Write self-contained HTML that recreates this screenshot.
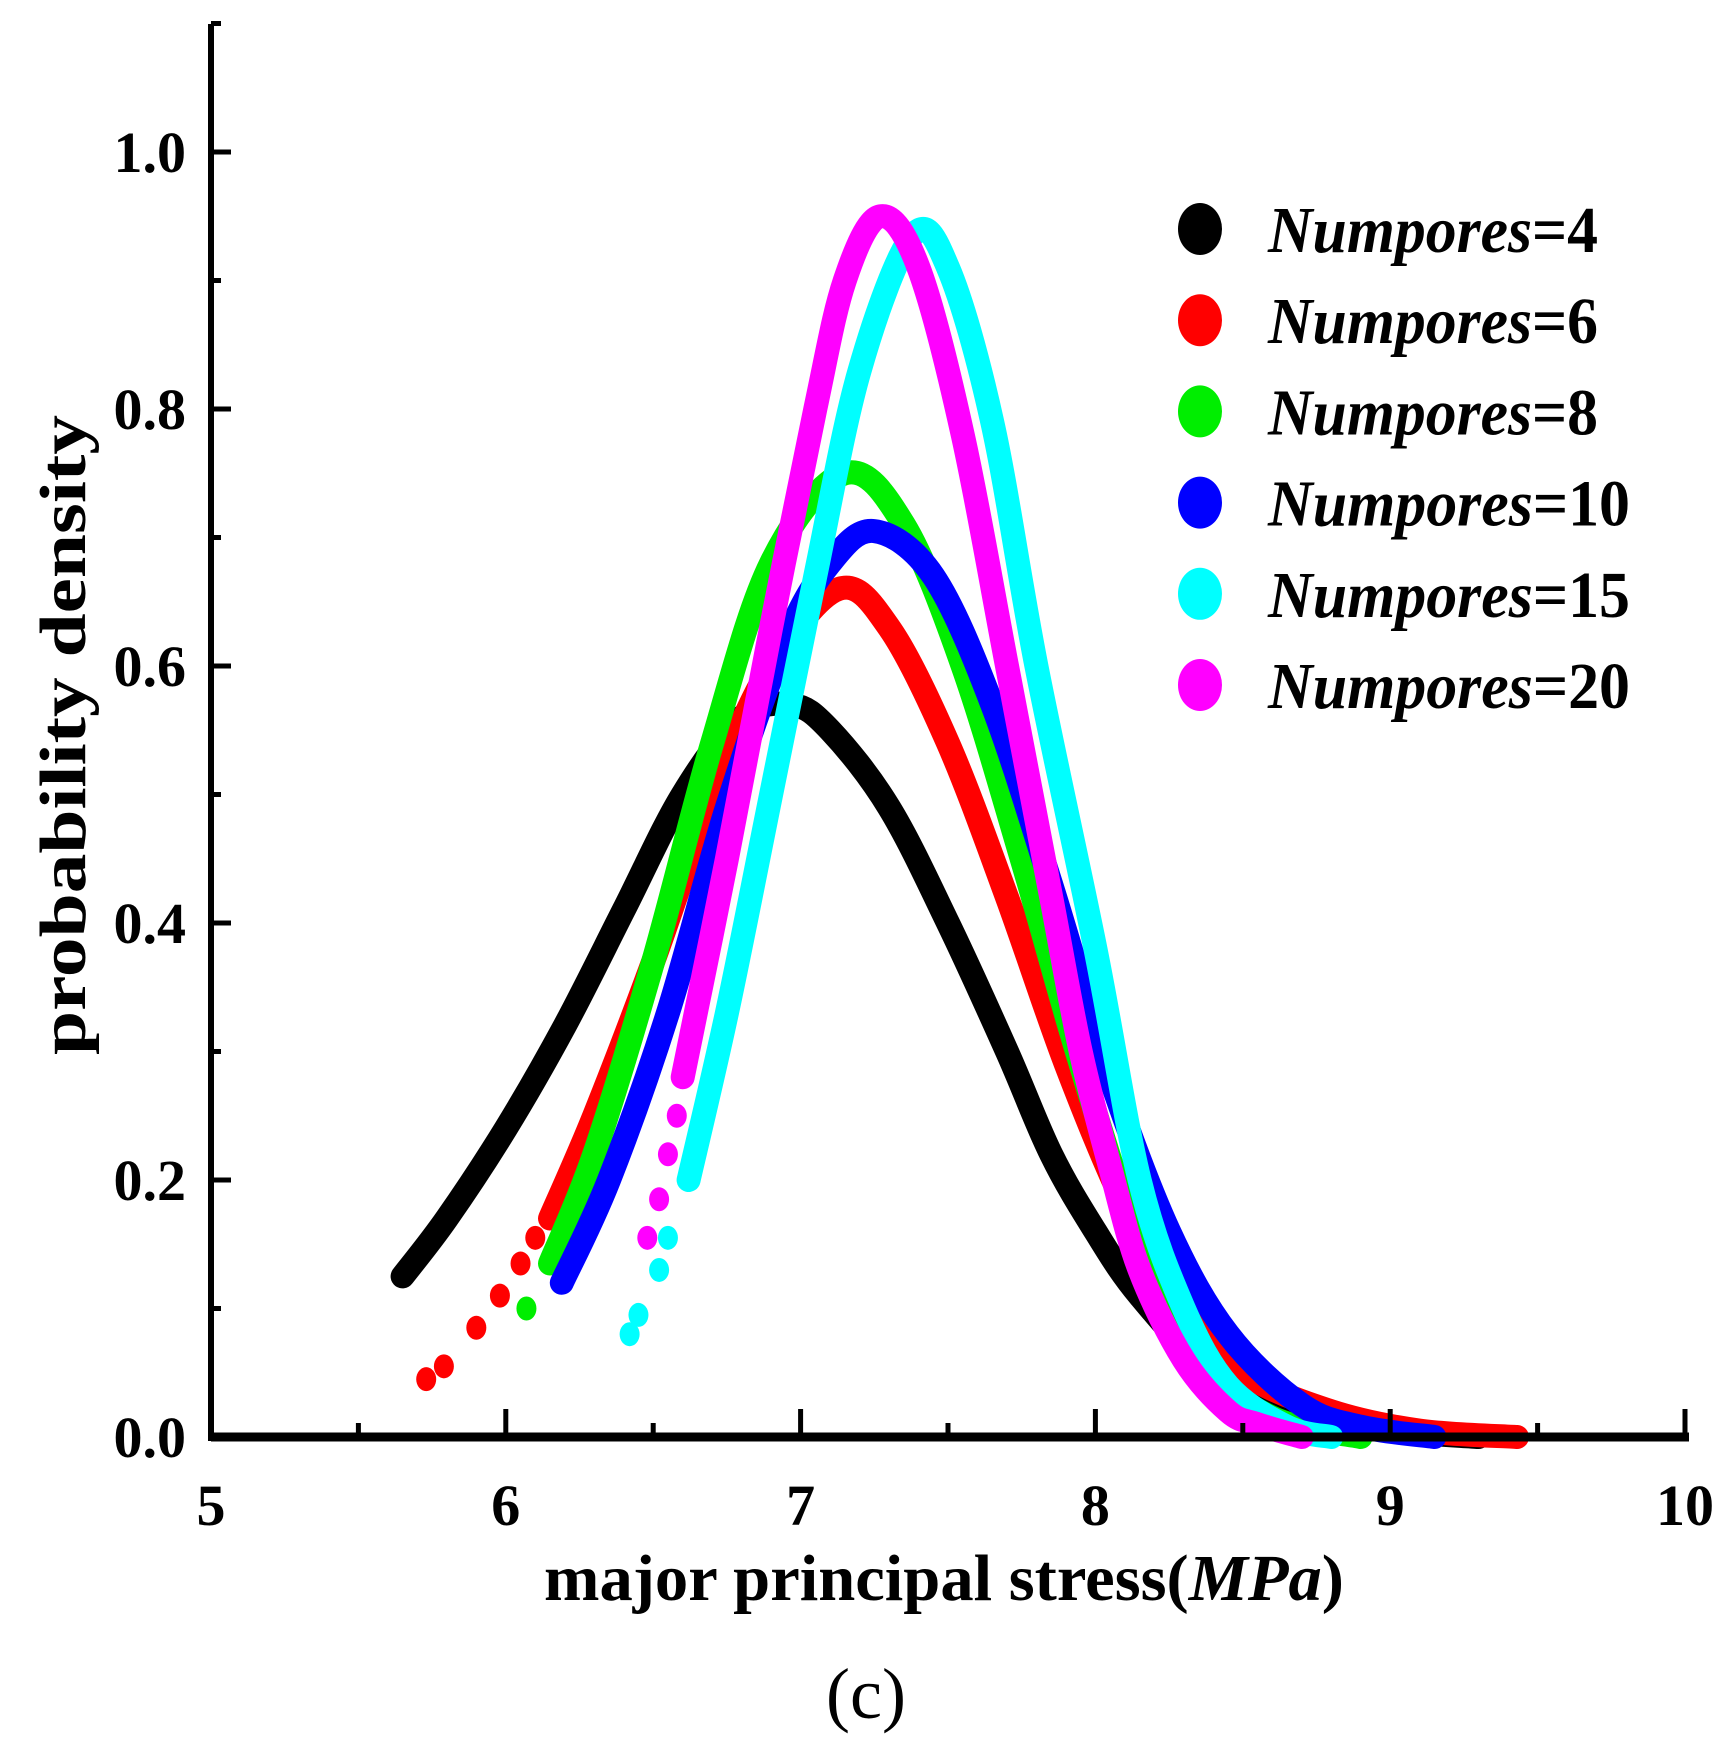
<!DOCTYPE html>
<html><head><meta charset="utf-8"><style>html,body{margin:0;padding:0;background:#fff}svg{display:block}</style></head>
<body>
<svg id="chart" width="1733" height="1746" viewBox="0 0 1733 1746" xmlns="http://www.w3.org/2000/svg" font-family="'Liberation Serif', serif" font-weight="bold">
<g id="series"></g>
<g id="axes"></g>
<g id="legend"></g>
<text x="944" y="1600" text-anchor="middle" font-size="66" textLength="800" lengthAdjust="spacingAndGlyphs">major principal stress(<tspan font-style="italic">MPa</tspan>)</text>
<text transform="translate(85,735) rotate(-90)" text-anchor="middle" font-size="66" textLength="640" lengthAdjust="spacingAndGlyphs">probability density</text>
<text x="866" y="1718" text-anchor="middle" font-size="72" font-weight="normal">(c)</text>
</svg>
<script>
const xTicks = [5, 6, 7, 8, 9, 10];
const yTicks = [0.0, 0.2, 0.4, 0.6, 0.8, 1.0];
const seriesNames = ["Numpores=4", "Numpores=6", "Numpores=8", "Numpores=10", "Numpores=15", "Numpores=20"];
const seriesColors = ["#000000", "#ff0000", "#00ee00", "#0000ff", "#00ffff", "#ff00ff"];
const s4x = [5.65,5.8,6.0,6.2,6.4,6.6,6.8,6.97,7.1,7.3,7.5,7.7,7.85,8.0,8.15,8.4,8.7,9.0,9.3];
const s4y = [0.125,0.17,0.24,0.32,0.41,0.5,0.56,0.57,0.55,0.49,0.4,0.3,0.22,0.16,0.11,0.05,0.015,0.005,0];
const s6x = [6.15,6.3,6.5,6.7,6.9,7.13,7.3,7.5,7.7,7.9,8.1,8.3,8.5,8.8,9.1,9.43];
const s6y = [0.17,0.25,0.37,0.5,0.6,0.66,0.63,0.54,0.42,0.29,0.18,0.1,0.05,0.02,0.005,0];
const s6dotsX = [5.73,5.79,5.9,5.98,6.05,6.1];
const s6dotsY = [0.045,0.055,0.085,0.11,0.135,0.155];
const s8x = [6.15,6.3,6.5,6.7,6.9,7.15,7.35,7.55,7.75,7.95,8.15,8.35,8.6,8.9];
const s8y = [0.135,0.22,0.37,0.54,0.68,0.75,0.71,0.6,0.45,0.29,0.15,0.06,0.015,0];
const s8dotsX = [6.07];
const s8dotsY = [0.1];
const s10x = [6.19,6.35,6.55,6.75,6.95,7.1,7.25,7.45,7.65,7.85,8.05,8.25,8.45,8.7,8.9,9.15];
const s10y = [0.12,0.2,0.33,0.49,0.62,0.68,0.705,0.67,0.57,0.43,0.28,0.16,0.08,0.025,0.008,0];
const s15x = [6.62,6.75,6.9,7.05,7.2,7.38,7.5,7.65,7.8,8.0,8.15,8.3,8.45,8.65,8.8];
const s15y = [0.2,0.33,0.5,0.67,0.83,0.935,0.91,0.79,0.6,0.38,0.2,0.1,0.04,0.008,0];
const s15dotsX = [6.42,6.45,6.52,6.55];
const s15dotsY = [0.08,0.095,0.13,0.155];
const s20x = [6.6,6.75,6.9,7.05,7.15,7.27,7.4,7.55,7.7,7.85,7.95,8.05,8.15,8.3,8.45,8.55,8.7];
const s20y = [0.28,0.45,0.63,0.8,0.9,0.95,0.91,0.78,0.6,0.42,0.3,0.21,0.13,0.06,0.02,0.01,0];
const s20dotsX = [6.48,6.52,6.55,6.58];
const s20dotsY = [0.155,0.185,0.22,0.25];

const NS = "http://www.w3.org/2000/svg";
const X0 = 211, X1 = 1685, Y0 = 1437, Y1 = 152;
function sx(v){ return X0 + (v - 5) / 5 * (X1 - X0); }
function sy(v){ return Y0 - v / 1.0 * (Y0 - Y1); }
function mk(tag, attrs, parent){ const e = document.createElementNS(NS, tag); for (const k in attrs) e.setAttribute(k, attrs[k]); parent.appendChild(e); return e; }
function smoothPath(P){
  let d = "M" + P[0][0].toFixed(1) + "," + P[0][1].toFixed(1);
  for (let i = 0; i < P.length - 1; i++) {
    const p0 = P[Math.max(0, i - 1)], p1 = P[i], p2 = P[i + 1], p3 = P[Math.min(P.length - 1, i + 2)];
    const c1x = p1[0] + (p2[0] - p0[0]) / 6, c1y = p1[1] + (p2[1] - p0[1]) / 6;
    const c2x = p2[0] - (p3[0] - p1[0]) / 6, c2y = p2[1] - (p3[1] - p1[1]) / 6;
    d += " C" + c1x.toFixed(1) + "," + c1y.toFixed(1) + " " + c2x.toFixed(1) + "," + c2y.toFixed(1) + " " + p2[0].toFixed(1) + "," + p2[1].toFixed(1);
  }
  return d;
}

const gS = document.getElementById("series");
const all = [[s4x,s4y,[],[]],[s6x,s6y,s6dotsX,s6dotsY],[s8x,s8y,s8dotsX,s8dotsY],[s10x,s10y,[],[]],[s15x,s15y,s15dotsX,s15dotsY],[s20x,s20y,s20dotsX,s20dotsY]];
all.forEach((s, i) => {
  const g = mk("g", {}, gS);
  
  
  const P = s[0].map((x, j) => [sx(x), sy(s[1][j])]);
  const pl = mk("path", {d: smoothPath(P), fill: "none", stroke: seriesColors[i], "stroke-width": 24, "stroke-linejoin": "round", "stroke-linecap": "round"}, g);
  
  
  s[2].forEach((x, j) => {
    const c = mk("ellipse", {cx: sx(x), cy: sy(s[3][j]), rx: 10, ry: 12, fill: seriesColors[i]}, g);
    
    
  });
});

const gA = document.getElementById("axes");
const xl = mk("line", {x1: X0, y1: Y0, x2: X1 + 4, y2: Y0, stroke: "#000", "stroke-width": 9}, gA);


const yl = mk("line", {x1: X0, y1: Y0 + 4, x2: X0, y2: 24, stroke: "#000", "stroke-width": 6}, gA);


xTicks.forEach(v => {
  const t = mk("line", {x1: sx(v), y1: Y0, x2: sx(v), y2: Y0 - 28, stroke: "#000", "stroke-width": 5}, gA);
  
  
  const l = mk("text", {x: sx(v), y: 1525, "text-anchor": "middle", "font-size": 58}, gA);
  l.textContent = String(v);
  
  
});
xTicks.slice(0, -1).forEach(v => {
  const t = mk("line", {x1: sx(v + 0.5), y1: Y0, x2: sx(v + 0.5), y2: Y0 - 14, stroke: "#000", "stroke-width": 5}, gA);
  
  
});
yTicks.forEach(v => {
  const t = mk("line", {x1: X0, y1: sy(v), x2: X0 + 20, y2: sy(v), stroke: "#000", "stroke-width": 5}, gA);
  
  
  const m = mk("line", {x1: X0, y1: sy(v + 0.1), x2: X0 + 10, y2: sy(v + 0.1), stroke: "#000", "stroke-width": 5}, gA);
  
  
  const l = mk("text", {x: 186, y: sy(v) + 20, "text-anchor": "end", "font-size": 58}, gA);
  l.textContent = v.toFixed(1);
  
  
});

const gL = document.getElementById("legend");
seriesNames.forEach((n, i) => {
  const cy = 229 + i * 91.2;
  const g = mk("g", {}, gL);
  
  
  mk("ellipse", {cx: 1200, cy: cy, rx: 22, ry: 26, fill: seriesColors[i]}, g);
  const t = mk("text", {x: 1268, y: cy + 23, "font-size": 66, textLength: n.length > 10 ? 362 : 330, lengthAdjust: "spacingAndGlyphs"}, g);
  const ts = mk("tspan", {"font-style": "italic"}, t);
  ts.textContent = "Numpores";
  const ts2 = mk("tspan", {}, t);
  ts2.textContent = n.slice(8);
});
</script>
</body></html>
